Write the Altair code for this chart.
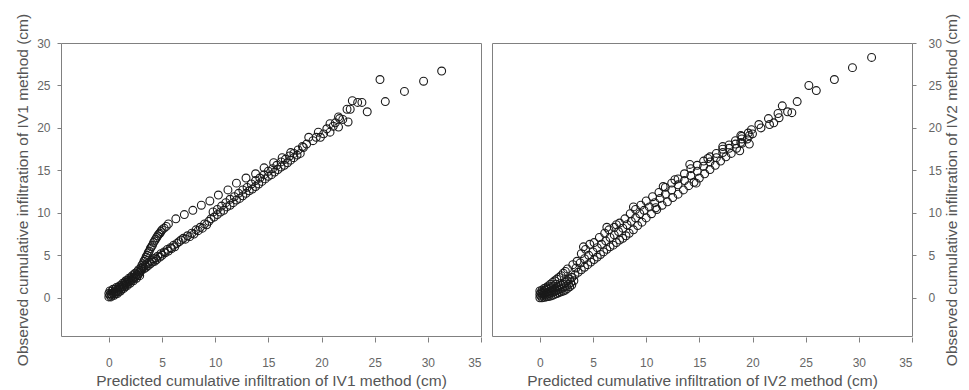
import altair as alt
import pandas as pd

# ---------------- IV1 panel (predicted x, observed y) ----------------
iv1_cluster = [(0.0,0.1),(0.0,0.5),(0.1,0.3),(0.1,0.8),(0.2,0.1),(0.2,0.5),(0.3,0.3),(0.3,0.8),
               (0.4,0.5),(0.4,1.0),(0.5,0.3),(0.5,0.7),(0.6,0.5),(0.6,1.0),(0.7,0.7),(0.7,1.2),
               (0.8,0.5),(0.8,0.9),(0.9,0.7),(0.9,1.2),(1.0,1.0),(1.0,1.4),(1.1,0.8),(1.1,1.2),
               (1.2,1.0),(1.2,1.5),(1.3,1.3),(1.3,1.7),(1.4,1.1),(1.4,1.5),(1.5,1.3),(1.5,1.8),
               (1.6,1.6),(1.6,2.0),(1.7,1.4),(1.7,1.8),(1.8,1.6),(1.8,2.1),(1.9,1.9),(1.9,2.3),
               (2.0,1.7),(2.0,2.1),(2.1,2.0),(2.1,2.4),(2.2,2.2),(2.2,2.6),(2.3,2.0),(2.3,2.4),
               (2.4,2.3),(2.4,2.8),(2.5,2.5),(2.5,2.9),(2.6,2.3),(2.6,2.7),(2.7,2.6),(2.7,3.1),
               (2.8,2.8),(2.8,3.3),(2.9,2.6),(2.9,3.0),(3.0,3.2),(3.0,3.5)]
iv1_upper_steep = [(3.1,3.8),(3.2,4.0),(3.3,4.3),(3.4,4.5),(3.5,4.8),(3.6,5.0),(3.7,5.3),(3.8,5.5),
                   (3.9,5.8),(4.0,6.0),(4.1,6.2),(4.2,6.5),(4.3,6.7),(4.4,6.9),(4.5,7.1),(4.6,7.3),
                   (4.7,7.5),(4.8,7.6),(4.9,7.8),(5.0,8.0),(5.2,8.2),(5.4,8.4),(5.6,8.7)]
iv1_upper_spaced = [(6.3,9.3),(7.1,9.8),(7.9,10.3),(8.7,10.9),(9.5,11.4),(10.3,12.1),(11.2,12.7),
                    (12.0,13.5),(12.9,14.1),(13.8,14.6),(14.6,15.3),(15.5,15.9),(16.3,16.5),(17.1,17.1)]
iv1_lower_band = [(3.1,3.3),(3.2,3.6),(3.3,3.4),(3.4,3.8),(3.5,3.6),(3.6,4.0),(3.7,3.8),(3.8,4.2),
                  (3.9,4.0),(4.0,4.4),(4.1,4.2),(4.2,4.6),(4.3,4.3),(4.4,4.7),(4.5,4.5),(4.6,4.9),
                  (4.8,4.8),(4.9,5.2),(5.0,5.0),(5.2,5.4),(5.3,5.3),(5.5,5.7),(5.6,5.5),(5.8,5.9),
                  (5.9,5.8),(6.1,6.2),(6.2,6.0),(6.4,6.4),(6.6,6.6),(6.8,6.8),(7.0,7.0),(7.2,6.9),
                  (7.4,7.3),(7.6,7.2),(7.8,7.6),(8.0,7.5),(8.2,8.0),(8.4,7.9),(8.6,8.3),(8.8,8.2),
                  (9.0,8.7),(9.2,8.6),(9.4,9.0)]
iv1_main_low = [(9.6,9.3),(9.9,9.5),(10.2,9.8),(10.5,10.1),(10.8,10.3),(11.1,10.7),(11.4,10.9),
                (11.7,11.2),(12.0,11.5),(12.3,11.7),(12.6,12.0),(12.9,12.3),(13.2,12.6),(13.5,12.8),
                (13.8,13.1),(14.1,13.4),(14.4,13.7),(14.7,14.0),(15.0,14.3),(15.3,14.5),(15.6,14.8),
                (15.9,15.1),(16.2,15.4),(16.5,15.6),(16.8,15.9),(17.1,16.2),(17.4,16.5),(17.7,16.8),
                (18.0,17.0)]
iv1_main_up = [(9.8,10.1),(10.2,10.4),(10.6,10.8),(11.0,11.2),(11.4,11.6),(11.8,11.9),(12.2,12.3),
               (12.6,12.7),(13.0,13.0),(13.4,13.4),(13.8,13.8),(14.2,14.1),(14.6,14.5),(15.0,14.9),
               (15.4,15.2),(15.8,15.6),(16.2,16.0),(16.6,16.3),(17.0,16.7),(17.4,17.0),(17.8,17.4),
               (18.2,17.8)]
iv1_tail = [(18.3,17.7),(18.6,18.1),(18.8,18.9),(19.2,18.5),(19.5,18.9),(19.7,19.5),(19.9,18.9),
            (20.2,19.3),(20.5,19.9),(20.8,19.5),(20.8,20.5),(21.1,20.2),(21.3,20.6),(21.6,20.1),
            (21.6,21.3),(21.7,21.1),(22.0,21.0),(22.4,22.2),(22.5,20.7),(22.7,22.2),(22.9,23.2),
            (23.4,23.0),(23.8,23.0),(24.3,21.9),(25.5,25.7),(26.0,23.1),(27.8,24.3),(29.6,25.5),
            (31.3,26.7)]

# ---------------- IV2 panel ----------------
iv2_cluster = [(0.0,0.0),(0.2,0.0),(0.4,0.05),(0.6,0.1),(0.8,0.15),(1.0,0.2),(1.2,0.3),(1.4,0.4),
               (1.6,0.5),(1.8,0.6),(2.0,0.7),(2.2,0.8),(2.4,0.9),(2.6,1.1),(2.8,1.3),(3.0,1.5),
               (0.0,0.4),(0.2,0.5),(0.4,0.5),(0.6,0.6),(0.8,0.7),(1.0,0.8),(1.2,0.9),(1.4,1.0),
               (1.6,1.2),(1.8,1.3),(2.0,1.5),(2.2,1.6),(2.4,1.8),(2.6,2.0),(2.8,2.2),(3.0,2.4),
               (0.0,0.8),(0.2,0.9),(0.4,1.1),(0.6,1.2),(0.8,1.4),(1.0,1.6),(1.2,1.8),(1.4,2.0),
               (1.6,2.2),(1.8,2.4),(2.0,2.6),(2.2,2.9),(2.4,3.1),
               (0.1,0.2),(0.3,0.3),(0.5,0.3),(0.7,0.4),(0.9,0.5),(1.1,0.6),(1.3,0.7),(1.5,0.8),
               (0.1,0.6),(0.3,0.7),(0.5,0.9),(0.7,1.0),(0.9,1.1),(1.1,1.3),(1.3,1.4),(1.5,1.6),
               (1.7,0.9),(1.9,1.0),(2.1,1.1),(2.3,1.3),(2.5,1.4),(2.7,1.6),(2.9,1.8),(3.2,2.0)]
iv2_lower = [(3.0,2.4),(3.3,2.7),(3.6,3.0),(3.9,3.3),(4.2,3.6),(4.5,3.9),(4.8,4.2),(5.1,4.5),
             (5.4,4.8),(5.7,5.1),(6.0,5.4),(6.3,5.7),(6.6,6.0),(6.9,6.2),(7.2,6.5),(7.5,6.8),
             (7.8,7.0),(8.1,7.3),(8.4,7.6),(8.8,8.0),(9.2,8.5),(9.6,8.9),(10.0,9.4),(10.5,9.9),
             (11.0,10.4),(11.5,10.9),(12.0,11.3),(12.5,11.8),(13.0,12.2),(13.5,12.7),(14.0,13.2),
             (14.5,13.6),(15.0,14.1),(15.5,14.6),(16.0,15.1),(16.5,15.6),(17.0,16.1),(17.5,16.6),
             (18.0,17.0),(18.5,17.6),(19.0,18.2),(19.5,18.7),(20.0,19.3)]
iv2_middle = [(3.4,3.5),(3.8,4.1),(4.2,4.6),(4.6,5.0),(5.0,5.4),(5.4,5.9),(5.8,6.3),(6.2,6.7),
              (6.6,7.1),(7.0,7.4),(7.4,7.8),(7.8,8.2),(8.2,8.6),(8.6,9.0),(9.0,9.4),(9.4,9.9),
              (9.8,10.3),(10.3,10.7),(10.8,11.2),(11.3,11.7),(11.8,12.2),(12.4,12.7),(13.0,13.3),
              (13.6,13.8),(14.2,14.4),(14.8,14.9),(15.4,15.5),(16.0,16.0),(16.6,16.5),(17.2,17.1),
              (17.8,17.6),(18.4,18.1),(19.0,18.7)]
iv2_upper = [(2.6,3.4),(3.1,3.9),(3.5,4.3),(3.9,5.2),(4.3,5.7),(4.7,6.3),(5.1,6.5),(5.6,7.1),
             (6.1,7.6),(6.5,8.0),(7.0,8.3),(7.5,8.8),(8.0,9.3),(8.5,9.9),(9.0,10.4),(9.5,10.9),
             (10.0,11.4),(10.6,11.9),(11.2,12.4),(11.8,13.0),(12.4,13.5),(13.0,14.0),(13.6,14.6),
             (14.2,15.2),(14.8,15.6),(15.4,16.1),(16.0,16.6),(16.6,17.0),(17.2,17.5),(17.8,18.0),
             (18.4,18.5),(19.0,19.0),(19.6,19.4)]
iv2_scatter = [(4.1,6.0),(6.3,8.3),(8.8,10.7),(11.6,13.1),(14.1,15.7),(17.2,17.8),(10.9,10.6),
               (14.7,13.5),(7.2,8.6),(12.7,13.9),(15.8,16.4)]
iv2_tail = [(18.8,17.3),(18.9,18.3),(18.9,19.1),(19.7,18.1),(19.7,19.1),(19.9,19.8),(20.6,20.4),
            (20.8,20.0),(21.5,21.1),(21.6,20.4),(22.0,20.6),(22.4,21.7),(22.5,21.2),(22.8,22.6),
            (23.3,21.9),(23.7,21.8),(24.2,23.1),(25.3,25.0),(26.0,24.4),(27.7,25.7),(29.4,27.1),
            (31.2,28.3)]

x_ticks = [0, 5, 10, 15, 20, 25, 30, 35]
y_ticks = [0, 5, 10, 15, 20, 25, 30]

def frame(*segs):
    pts = [p for s in segs for p in s]
    return pd.DataFrame({"pred": [p[0] for p in pts], "obs": [p[1] for p in pts]})

df1 = frame(iv1_cluster, iv1_upper_steep, iv1_upper_spaced, iv1_lower_band,
            iv1_main_low, iv1_main_up, iv1_tail)
df2 = frame(iv2_cluster, iv2_lower, iv2_middle, iv2_upper, iv2_scatter, iv2_tail)

xscale = alt.Scale(domain=[-4.5, 35], nice=False, zero=False)
yscale = alt.Scale(domain=[-4.5, 30], nice=False, zero=False)

def panel(df, xtitle, ytitle, yorient):
    yaxis_kw = dict(values=y_ticks, title=ytitle, orient=yorient, tickSize=4)
    if yorient == "right":
        yaxis_kw.update(labelPadding=12, titlePadding=3, titleAngle=270, titleBaseline="top")
    else:
        yaxis_kw.update(labelPadding=7, titlePadding=6)
    return alt.Chart(df).mark_point(
        shape="circle", size=62, filled=False, color="#1a1a1a", strokeWidth=1.1, opacity=1
    ).encode(
        x=alt.X("pred:Q", scale=xscale,
                axis=alt.Axis(values=x_ticks, title=xtitle, offset=1, tickSize=5,
                              labelPadding=15, titlePadding=5)),
        y=alt.Y("obs:Q", scale=yscale, axis=alt.Axis(**yaxis_kw)),
    ).properties(width=420, height=293)

left = panel(df1, "Predicted cumulative infiltration of IV1 method (cm)",
             "Observed cumulative infiltration of IV1 method (cm)", "left")
right = panel(df2, "Predicted cumulative infiltration of IV2 method (cm)",
              "Observed cumulative infiltration of IV2 method (cm)", "right")

chart = alt.hconcat(left, right, spacing=11, bounds="flush").properties(
    padding={"left": 7, "top": 4, "right": 0, "bottom": 0},
    background="white"
).configure_view(
    stroke="#808080", strokeWidth=1
).configure_axis(
    labelFont="Liberation Sans", labelFontSize=12, labelColor="#666666",
    titleFont="Liberation Sans", titleFontSize=15.5, titleFontWeight="normal",
    titleColor="#555555", tickColor="#808080", domain=False, grid=False
)

chart.save("out.html", embed_options={"renderer": "svg", "actions": False})
